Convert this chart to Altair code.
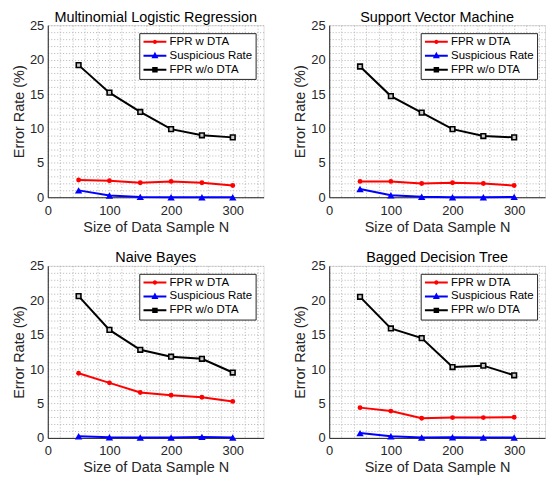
import altair as alt
import pandas as pd

# ---------------- data ----------------
sample_sizes = [50, 100, 150, 200, 250, 300]
series_names = ["FPR w DTA", "Suspicious Rate", "FPR w/o DTA"]
panel_titles = ["Multinomial Logistic Regression", "Support Vector Machine",
                "Naive Bayes", "Bagged Decision Tree"]

mlr_fpr_w = [2.5, 2.4, 2.1, 2.3, 2.1, 1.7]
mlr_susp = [1.0, 0.25, 0.05, 0.0, 0.0, 0.0]
mlr_fpr_wo = [19.2, 15.2, 12.4, 9.9, 9.0, 8.7]

svm_fpr_w = [2.3, 2.3, 2.0, 2.1, 2.0, 1.7]
svm_susp = [1.2, 0.3, 0.07, 0.0, 0.0, 0.05]
svm_fpr_wo = [19.0, 14.7, 12.3, 9.9, 8.9, 8.7]

nb_fpr_w = [9.4, 8.0, 6.6, 6.2, 5.9, 5.3]
nb_susp = [0.25, 0.1, 0.05, 0.05, 0.15, 0.05]
nb_fpr_wo = [20.6, 15.7, 12.8, 11.8, 11.5, 9.5]

bdt_fpr_w = [4.4, 3.9, 2.85, 2.95, 2.95, 3.0]
bdt_susp = [0.7, 0.25, 0.05, 0.1, 0.05, 0.05]
bdt_fpr_wo = [20.5, 15.9, 14.5, 10.3, 10.5, 9.1]

panel_values = [
    (mlr_fpr_w, mlr_susp, mlr_fpr_wo),
    (svm_fpr_w, svm_susp, svm_fpr_wo),
    (nb_fpr_w, nb_susp, nb_fpr_wo),
    (bdt_fpr_w, bdt_susp, bdt_fpr_wo),
]

x_grid = list(range(0, 341, 20))
y_grid = list(range(0, 26, 1))

# ---------------- style ----------------
FONT = "Liberation Sans"
TXT = "#262626"
colors = ["#ff0000", "#0000ff", "#000000"]

line_part = "M-2.3,-0.2L2.3,-0.2L2.3,0.2L-2.3,0.2Z"
legend_paths = [
    line_part + "M0.45,0A0.45,0.45 0 1,1 -0.45,0A0.45,0.45 0 1,1 0.45,0Z",
    line_part + "M0,-0.8L0.7,0.5L-0.7,0.5Z",
    line_part + "M-0.55,-0.55L0.55,-0.55L0.55,0.55L-0.55,0.55Z",
]

W, H = 217, 173


def make_panel(title, vals):
    rows = []
    for name, ys in zip(series_names, vals):
        for n, v in zip(sample_sizes, ys):
            rows.append({"N": n, "rate": v, "series": name})
    df = pd.DataFrame(rows)

    x = alt.X("N:Q", scale=alt.Scale(domain=[0, 350], nice=False, zero=False),
              axis=alt.Axis(values=x_grid,
                            labelExpr="datum.value % 100 == 0 ? datum.label : ''",
                            title="Size of Data Sample N", ticks=False,
                            grid=True, gridDash=[1, 2], gridColor="#b4b4b4",
                            domainColor=TXT, labelColor=TXT, titleColor=TXT,
                            labelFont=FONT, titleFont=FONT, labelFontSize=13,
                            titleFontSize=14.5, titleFontWeight="normal",
                            labelPadding=7, titlePadding=3, labelFlush=False,
                            labelOverlap=False))
    y = alt.Y("rate:Q", scale=alt.Scale(domain=[0, 25], nice=False),
              axis=alt.Axis(values=y_grid,
                            labelExpr="datum.value % 5 == 0 ? datum.label : ''",
                            title="Error Rate (%)", ticks=False,
                            grid=True, gridDash=[1, 2], gridColor="#b4b4b4",
                            domainColor=TXT, labelColor=TXT, titleColor=TXT,
                            labelFont=FONT, titleFont=FONT, labelFontSize=13,
                            titleFontSize=14.5, titleFontWeight="normal",
                            labelPadding=4, titlePadding=3, labelFlush=False,
                            labelOverlap=False))

    base = alt.Chart(df)
    layers = []
    for name, col in zip(series_names, colors):
        layers.append(base.transform_filter(alt.datum.series == name)
                      .mark_line(strokeWidth=2, color=col).encode(x=x, y=y))
    layers.append(base.transform_filter(alt.datum.series == series_names[0]).mark_point(
        shape="circle", filled=True, size=24, color=colors[0], opacity=1).encode(x=x, y=y))
    layers.append(base.transform_filter(alt.datum.series == series_names[1]).mark_point(
        shape="triangle-up", filled=True, size=55, color=colors[1], opacity=1).encode(x=x, y=y))
    layers.append(base.transform_filter(alt.datum.series == series_names[2]).mark_point(
        shape="square", filled=False, size=22, stroke=colors[2], fill="#cccccc",
        strokeWidth=1.6, opacity=1).encode(x=x, y=y))

    leg = alt.Legend(title=None, orient="top-right", offset=8, padding=3,
                     strokeColor="#262626", fillColor="white", cornerRadius=0,
                     labelFont=FONT, labelFontSize=11.5, labelColor="black",
                     symbolSize=100, symbolStrokeWidth=0, symbolOpacity=1,
                     symbolOffset=7, labelOffset=9, rowPadding=1,
                     labelLimit=200)
    layers.append(base.mark_point(filled=True, opacity=0).encode(
        x=x, y=y,
        color=alt.Color("series:N", scale=alt.Scale(domain=series_names, range=colors),
                        legend=leg, sort=series_names),
        shape=alt.Shape("series:N",
                        scale=alt.Scale(domain=series_names, range=legend_paths),
                        legend=leg, sort=series_names)))

    return alt.layer(*layers).properties(
        width=W, height=H,
        title=alt.TitleParams(title, font=FONT, fontSize=14.5, fontWeight="normal",
                              color="black", offset=-6, frame="group"))


panels = [make_panel(t, v) for t, v in zip(panel_titles, panel_values)]

row1 = alt.hconcat(panels[0], panels[1], spacing=28).resolve_scale(
    color="independent", shape="independent").resolve_legend(
    color="independent", shape="independent")
row2 = alt.hconcat(panels[2], panels[3], spacing=28).resolve_scale(
    color="independent", shape="independent").resolve_legend(
    color="independent", shape="independent")

chart = alt.vconcat(row1, row2, spacing=16).resolve_scale(
    color="independent", shape="independent").resolve_legend(
    color="independent", shape="independent").properties(
    padding={"left": 3, "top": 0, "right": 0, "bottom": 0}
).configure_view(stroke=None).configure(background="white")

chart.save("out.html", embed_options={"renderer": "svg", "actions": False})
